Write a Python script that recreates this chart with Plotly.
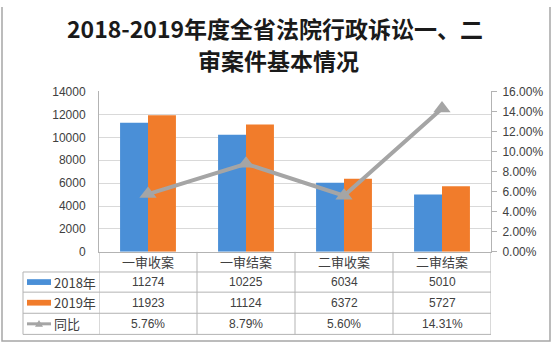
import plotly.graph_objects as go

categories = ["一审收案", "一审结案", "二审收案", "二审结案"]
series_2018 = [11274, 10225, 6034, 5010]
series_2019 = [11923, 11124, 6372, 5727]
yoy_ratio = [0.0576, 0.0879, 0.0560, 0.1431]
series_names = ["2018年", "2019年", "同比"]
title_lines = ["2018-2019年度全省法院行政诉讼一、二", "审案件基本情况"]

W, H = 553, 351
BLUE = "#4a8fd7"
ORANGE = "#f17c2b"
GRAY = "#a5a5a5"
TXT = "#404040"
GRID = "#d9d9d9"
TLINE = "#b3b3b3"
FONT = "Liberation Sans, Noto Sans CJK SC, sans-serif"
CJK = "Noto Sans CJK SC, sans-serif"


def px(x):
    return x / W


def py(y):
    return 1 - y / H


# plot area in pixels
L, R, T, B = 99, 491, 88, 255
rows = [255, 276, 297, 319, 341]
table_left = 23

fig = go.Figure()
fig.add_trace(go.Bar(x=categories, y=series_2018, name=series_names[0],
                     marker=dict(color=BLUE, line=dict(width=0))))
fig.add_trace(go.Bar(x=categories, y=series_2019, name=series_names[1],
                     marker=dict(color=ORANGE, line=dict(width=0))))
fig.add_trace(go.Scatter(x=categories, y=yoy_ratio, name=series_names[2], yaxis="y2",
                         mode="lines+markers",
                         line=dict(color=GRAY, width=4),
                         marker=dict(symbol="triangle-up", size=15, color=GRAY)))

shapes = []
annotations = []

# title
annotations.append(dict(text="<b>" + title_lines[0] + "</b>", x=px(275), y=py(22),
                        xref="paper", yref="paper", showarrow=False,
                        font=dict(family=CJK, size=23, color="#1a1a1a"),
                        xanchor="center", yanchor="middle"))
annotations.append(dict(text="<b>" + title_lines[1] + "</b>", x=px(278), y=py(55),
                        xref="paper", yref="paper", showarrow=False,
                        font=dict(family=CJK, size=23, color="#1a1a1a"),
                        xanchor="center", yanchor="middle"))

# table horizontal lines
for yy in rows[1:]:
    shapes.append(dict(type="line", xref="paper", yref="paper",
                       x0=px(table_left), x1=px(R), y0=py(yy), y1=py(yy),
                       line=dict(color=TLINE, width=1)))
# left vertical of legend column
shapes.append(dict(type="line", xref="paper", yref="paper",
                   x0=px(table_left), x1=px(table_left), y0=py(rows[1]), y1=py(rows[-1]),
                   line=dict(color=TLINE, width=1)))
# category boundary verticals through table
for i in range(len(categories) + 1):
    shapes.append(dict(type="line", xref="x", yref="paper",
                       x0=i - 0.5, x1=i - 0.5, y0=py(rows[0]), y1=py(rows[-1]),
                       line=dict(color=TLINE, width=1)))

# header row (category names)
for i, c in enumerate(categories):
    annotations.append(dict(text=c, x=i, y=py((rows[0] + rows[1]) / 2), xref="x", yref="paper",
                            showarrow=False, font=dict(family=CJK, size=13, color=TXT),
                            xanchor="center", yanchor="middle"))

value_rows = [
    [str(v) for v in series_2018],
    [str(v) for v in series_2019],
    [f"{v:.2%}" for v in yoy_ratio],
]
for r, vals in enumerate(value_rows):
    yc = (rows[r + 1] + rows[r + 2]) / 2
    for i, t in enumerate(vals):
        annotations.append(dict(text=t, x=i, y=py(yc), xref="x", yref="paper",
                                showarrow=False, font=dict(family=FONT, size=12, color=TXT),
                                xanchor="center", yanchor="middle"))
    # legend label
    annotations.append(dict(text=series_names[r], x=px(52), y=py(yc), xref="paper", yref="paper",
                            showarrow=False, font=dict(family=CJK, size=13, color=TXT),
                            xanchor="left", yanchor="middle"))

# legend keys
for r, col in enumerate([BLUE, ORANGE]):
    yc = (rows[r + 1] + rows[r + 2]) / 2
    shapes.append(dict(type="rect", xref="paper", yref="paper",
                       x0=px(27), x1=px(51), y0=py(yc - 3), y1=py(yc + 3),
                       fillcolor=col, line=dict(width=0)))
yc = (rows[3] + rows[4]) / 2
shapes.append(dict(type="line", xref="paper", yref="paper",
                   x0=px(27), x1=px(51), y0=py(yc), y1=py(yc),
                   line=dict(color=GRAY, width=3)))
shapes.append(dict(type="path", xref="paper", yref="paper",
                   path=f"M {px(35)} {py(yc + 3)} L {px(43)} {py(yc + 3)} L {px(39)} {py(yc - 4)} Z",
                   fillcolor=GRAY, line=dict(width=0)))

# outer frame
shapes.append(dict(type="path", xref="paper", yref="paper",
                   path=f"M {px(2)} {py(0)} L {px(2)} {py(348)} L {px(550)} {py(348)} L {px(550)} {py(0)}",
                   line=dict(color="#a6a6a6", width=1.5)))

fig.update_layout(
    width=W, height=H,
    margin=dict(l=0, r=0, t=0, b=0),
    paper_bgcolor="white", plot_bgcolor="white",
    showlegend=False,
    barmode="group", bargap=0.43, bargroupgap=0,
    xaxis=dict(domain=[px(L), px(R)], showticklabels=False, showgrid=False,
               showline=True, linecolor=TLINE, linewidth=1, ticks="", zeroline=False,
               range=[-0.5, 3.5], fixedrange=True),
    yaxis=dict(domain=[py(B), py(T)], range=[0, 14000], dtick=2000, tickformat="d",
               showgrid=True, gridcolor=GRID, gridwidth=1,
               showline=True, linecolor=TLINE, zeroline=False, ticks="",
               ticklabelstandoff=10,
               tickfont=dict(family=FONT, size=12, color=TXT)),
    yaxis2=dict(overlaying="y", side="right", range=[0, 0.16], dtick=0.02,
                tickformat=".2%", showgrid=False, zeroline=False,
                showline=True, linecolor=TLINE, ticks="outside", ticklen=5, tickcolor=TLINE,
                ticklabelstandoff=3,
                tickfont=dict(family=FONT, size=12, color=TXT)),
    shapes=shapes,
    annotations=annotations,
)

fig.write_html("out.html")
